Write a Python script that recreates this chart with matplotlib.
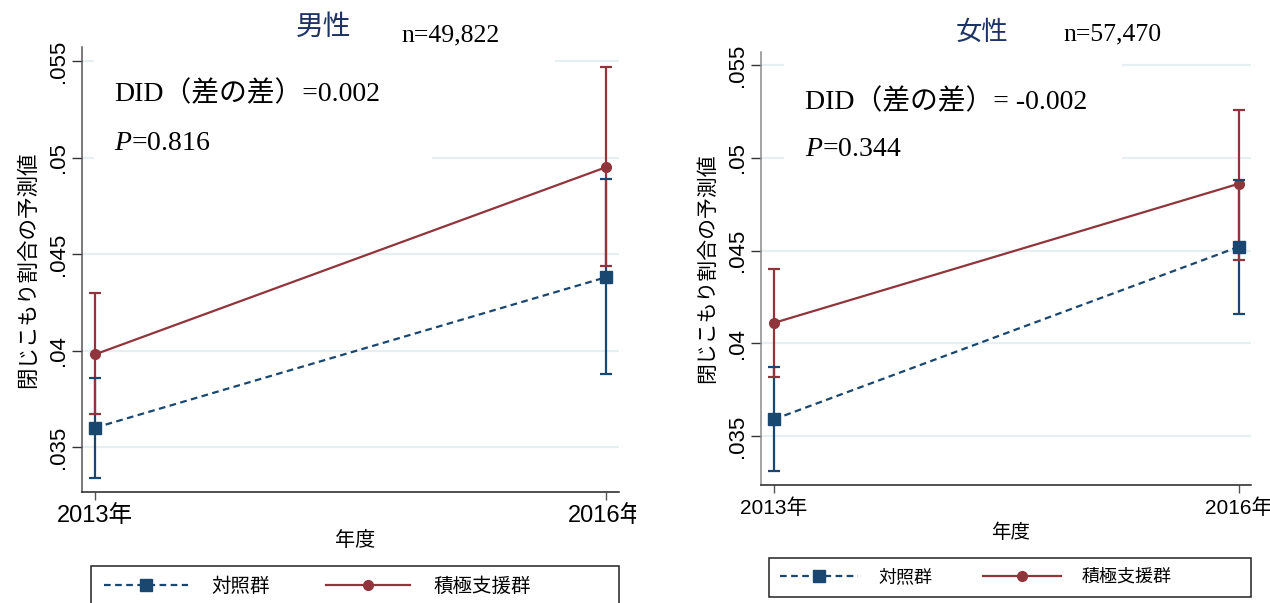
import numpy as np
import matplotlib
matplotlib.use("Agg")
import matplotlib.pyplot as plt
from matplotlib.patches import Rectangle

plt.rcParams["mathtext.fontset"] = "custom"
plt.rcParams["mathtext.rm"] = "Liberation Serif"
plt.rcParams["mathtext.it"] = "Liberation Serif:italic"

# ---- data -------------------------------------------------------------
years = ["2013年", "2016年"]
groups = ["対照群", "積極支援群"]

# men
men_ctrl = [0.0360, 0.0438]
men_ctrl_lo = [0.0334, 0.0388]
men_ctrl_hi = [0.0386, 0.0489]
men_supp = [0.0398, 0.0495]
men_supp_lo = [0.0367, 0.0444]
men_supp_hi = [0.0430, 0.0547]

# women
wom_ctrl = [0.0359, 0.0452]
wom_ctrl_lo = [0.0331, 0.0416]
wom_ctrl_hi = [0.0387, 0.0488]
wom_supp = [0.0411, 0.0486]
wom_supp_lo = [0.0382, 0.0445]
wom_supp_hi = [0.0440, 0.0526]

yticks = [0.035, 0.04, 0.045, 0.05, 0.055]
ytick_labels = [".035", ".04", ".045", ".05", ".055"]

panels = [
    dict(title="男性", n="n=49,822", did="DID（差の差）=0.002", p="0.816",
         ctrl=(men_ctrl, men_ctrl_lo, men_ctrl_hi),
         supp=(men_supp, men_supp_lo, men_supp_hi)),
    dict(title="女性", n="n=57,470", did="DID（差の差）= -0.002", p="0.344",
         ctrl=(wom_ctrl, wom_ctrl_lo, wom_ctrl_hi),
         supp=(wom_supp, wom_supp_lo, wom_supp_hi)),
]

# ---- style --------------------------------------------------------------
W, H = 1270, 603
NAVY = "#1a476f"
MAROON = "#90353b"
GRID = "#e8eff3"
TITLE_C = "#1e3264"
SANS = ["Liberation Sans", "Noto Sans CJK JP"]
CJK = ["Noto Sans CJK JP", "DejaVu Sans"]
SERIF = ["Liberation Serif", "Noto Sans CJK JP"]

def fx(px):
    return px / W

def fy(py):
    return 1 - py / H

fig = plt.figure(figsize=(W / 100, H / 100), dpi=100)
fig.patch.set_facecolor("white")

# per-panel geometry (pixels)
geo = [
    dict(ax=(82, 47, 619, 492), xlim=(-0.0254, 1.0254), ylim=(0.03267, 0.05573),
         title=(324, 27, 20), n=(401, 35), did=(114, 94), p=(114, 143), txt=20,
         boxes=[(94, 55, 555, 100), (94, 120, 432, 165)],
         ylab=(28, 270, 15.5), xlab=(355, 540, 14.5), xt=17, yt_spine="#555555",
         leg=(91, 566, 619, 612), leg_y=586, leg_x=104,
         leg_font=14, leg_hl=4.33, leg_tp=1.19, leg_cs=2.9),
    dict(ax=(760.7, 51.7, 1251, 485), xlim=(-0.0286, 1.0265), ylim=(0.03236, 0.05572),
         title=(982, 32, 19), n=(1063, 34), did=(805, 102), p=(805, 150), txt=20,
         boxes=[(784, 55, 1122, 170)],
         ylab=(707, 268, 15), xlab=(1011, 532, 14), xt=15, yt_spine="#8a8a8a",
         leg=(769, 557.7, 1251, 597), leg_y=577, leg_x=780,
         leg_font=13, leg_hl=4.33, leg_tp=1.1, leg_cs=2.83),
]

x = np.arange(len(years))

for pan, g in zip(panels, geo):
    x0, y0, x1, y1 = g["ax"]
    ax = fig.add_axes([fx(x0), fy(y1), (x1 - x0) / W, (y1 - y0) / H])
    ax.set_xlim(*g["xlim"])
    ax.set_ylim(*g["ylim"])
    ax.set_axisbelow(True)
    ax.yaxis.grid(True, color=GRID, lw=1.6)
    for s in ("top", "right"):
        ax.spines[s].set_visible(False)
    ax.spines["left"].set_color(g["yt_spine"])
    ax.spines["left"].set_linewidth(1.1)
    ax.spines["bottom"].set_color("#222222")
    ax.spines["bottom"].set_linewidth(1.1)

    ax.set_yticks(yticks)
    ax.set_yticklabels(ytick_labels, rotation=90, va="center", fontfamily=SANS, fontsize=16)
    ax.tick_params(axis="y", length=7, width=1, color="#333333", pad=2.5)
    ax.set_xticks(x)
    ax.set_xticklabels(years, fontfamily=SANS, fontsize=g["xt"])
    ax.tick_params(axis="x", length=6, width=1, color="#555555", pad=3.5)

    # white panels behind the annotations
    for bx0, by0, bx1, by1 in g["boxes"]:
        ax.add_patch(Rectangle((fx(bx0), fy(by1)), (bx1 - bx0) / W, (by1 - by0) / H,
                               transform=fig.transFigure, facecolor="white",
                               edgecolor="none", zorder=1))

    handles = []
    for key, color, marker, ms, ls in (("ctrl", NAVY, "s", 8, (0, (3, 2))),
                                       ("supp", MAROON, "o", 7, "-")):
        mean, lo, hi = (np.asarray(v) for v in pan[key])
        err = np.vstack([mean - lo, hi - mean])
        _, caps, bars = ax.errorbar(x, mean, yerr=err, fmt="none", ecolor=color,
                                    elinewidth=1.6, capsize=4.3, capthick=1.6, zorder=2)
        for c in caps:
            c.set_zorder(4)
        h, = ax.plot(x, mean, color=color, lw=1.6, linestyle=ls, marker=marker,
                     markersize=ms, markerfacecolor=color, markeredgecolor=color, zorder=3)
        handles.append(h)

    # labels
    ax.set_ylabel("閉じこもり割合の予測値", fontfamily=CJK, fontsize=g["ylab"][2])
    ax.yaxis.set_label_coords((g["ylab"][0] - x0) / (x1 - x0), (y1 - g["ylab"][1]) / (y1 - y0))
    ax.yaxis.label.set_va("center")
    ax.set_xlabel("年度", fontfamily=CJK, fontsize=g["xlab"][2])
    ax.xaxis.set_label_coords((g["xlab"][0] - x0) / (x1 - x0), (y1 - g["xlab"][1]) / (y1 - y0))
    ax.xaxis.label.set_va("center")

    fig.text(fx(g["title"][0]), fy(g["title"][1]), pan["title"], color=TITLE_C,
             fontfamily=CJK, fontsize=g["title"][2], ha="center", va="center")
    fig.text(fx(g["n"][0]), fy(g["n"][1]), pan["n"], fontfamily=SERIF,
             fontsize=18.5, ha="left", va="center")
    fig.text(fx(g["did"][0]), fy(g["did"][1]), pan["did"], fontfamily=SERIF,
             fontsize=g["txt"], ha="left", va="center")
    fig.text(fx(g["p"][0]), fy(g["p"][1]), r"$P$=" + pan["p"], fontfamily=SERIF,
             fontsize=g["txt"], ha="left", va="center")

    # legend frame and entries
    lx0, ly0, lx1, ly1 = g["leg"]
    fig.add_artist(Rectangle((fx(lx0), fy(ly1)), (lx1 - lx0) / W, (ly1 - ly0) / H,
                             transform=fig.transFigure, facecolor="white",
                             edgecolor="#222222", lw=1.1, zorder=0))
    fig.legend(handles, groups, loc="center left",
               bbox_to_anchor=(fx(g["leg_x"]), fy(g["leg_y"])),
               frameon=False, ncol=2, prop={"family": CJK, "size": g["leg_font"]},
               handlelength=g["leg_hl"], handletextpad=g["leg_tp"],
               columnspacing=g["leg_cs"], borderpad=0, borderaxespad=0, numpoints=1)

# the left panel is cut off at its right edge
fig.add_artist(Rectangle((fx(636), fy(540)), 20 / W, 40 / H, transform=fig.transFigure,
                         facecolor="white", edgecolor="none", zorder=10))

fig.savefig("out.png", dpi=100, facecolor="white")
